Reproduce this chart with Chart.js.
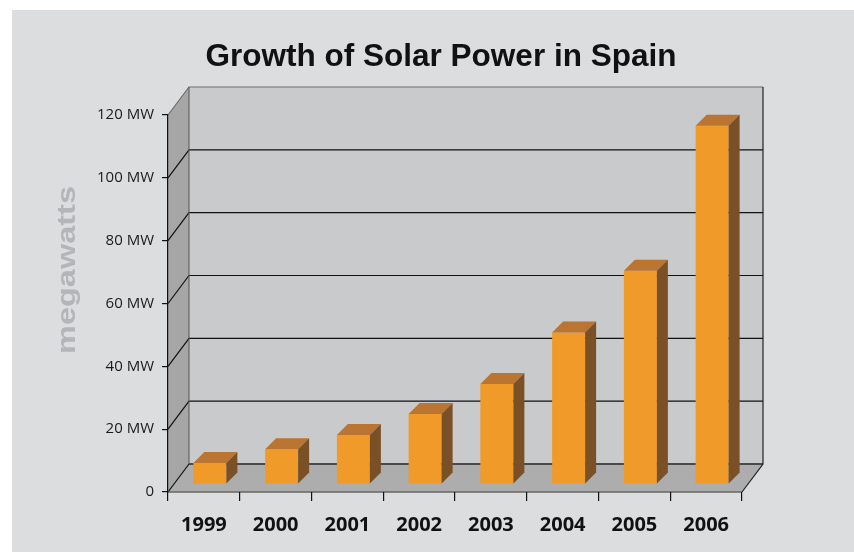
<!DOCTYPE html>
<html lang="en">
<head>
  <meta charset="UTF-8" />
  <title>Growth of Solar Power in Spain</title>
  <script src="https://cdn.jsdelivr.net/npm/chart.js"></script>
  <style>
    html, body { margin: 0; padding: 0; background: #fff; }
    #wrap { width: 854px; height: 552px; }
  </style>
</head>
<body>
  <div id="wrap"><canvas id="chart-solar" width="854" height="552"></canvas></div>
  <script>
    // values (MW, cumulative)
    const years = ['1999', '2000', '2001', '2002', '2003', '2004', '2005', '2006'];
    const megawatts = [6.7, 11.1, 15.6, 22.3, 31.8, 48.2, 67.9, 114];
    const yTicks = [0, 20, 40, 60, 80, 100, 120];

    // 3d look
    const wallDepth = { x: 21, y: -28 };
    const barShift = { x: 6, y: -8 };
    const barDepth = 11;

    const walls3d = {
      id: 'walls3d',
      beforeDraw(chart) {
        const { ctx, chartArea: a, scales: { y } } = chart;
        const dx = wallDepth.x, dy = wallDepth.y;
        ctx.save();
        ctx.fillStyle = '#fff';
        ctx.fillRect(0, 0, chart.width, chart.height);
        ctx.fillStyle = '#dcdddf';
        ctx.fillRect(12, 10, chart.width - 12, chart.height - 10);

        const top = y.getPixelForValue(120), bot = y.getPixelForValue(0);
        // back wall
        ctx.fillStyle = '#c9cacc';
        ctx.fillRect(a.left + dx, top + dy, a.right - a.left, bot - top);
        // left wall
        ctx.fillStyle = '#a6a6a6';
        ctx.beginPath();
        ctx.moveTo(a.left, bot); ctx.lineTo(a.left + dx, bot + dy);
        ctx.lineTo(a.left + dx, top + dy); ctx.lineTo(a.left, top);
        ctx.closePath(); ctx.fill();
        // floor
        ctx.fillStyle = '#adadad';
        ctx.beginPath();
        ctx.moveTo(a.left, bot); ctx.lineTo(a.right, bot);
        ctx.lineTo(a.right + dx, bot + dy); ctx.lineTo(a.left + dx, bot + dy);
        ctx.closePath(); ctx.fill();

        // grid lines
        ctx.lineWidth = 1.2;
        yTicks.forEach(v => {
          const py = y.getPixelForValue(v);
          ctx.strokeStyle = v === 120 ? '#6e6e6e' : '#111';
          ctx.beginPath();
          ctx.moveTo(a.left, py); ctx.lineTo(a.left + dx, py + dy);
          if (v > 0) ctx.lineTo(a.right + dx, py + dy);
          ctx.stroke();
        });
        // edges
        ctx.strokeStyle = '#4a4a4a'; ctx.lineWidth = 2;
        ctx.beginPath();
        ctx.moveTo(a.left + dx, bot + dy); ctx.lineTo(a.right + dx, bot + dy);
        ctx.stroke();
        ctx.strokeStyle = '#555'; ctx.lineWidth = 1;
        ctx.beginPath();
        ctx.moveTo(a.left + dx, top + dy); ctx.lineTo(a.left + dx, bot + dy);
        ctx.stroke();
        ctx.strokeStyle = '#222'; ctx.lineWidth = 1.2;
        ctx.beginPath();
        ctx.moveTo(a.right + dx, top + dy); ctx.lineTo(a.right + dx, bot + dy);
        ctx.lineTo(a.right, bot);
        ctx.stroke();
        ctx.strokeStyle = '#666'; ctx.lineWidth = 1.5;
        ctx.beginPath();
        ctx.moveTo(a.left, bot); ctx.lineTo(a.right, bot);
        ctx.stroke();
        ctx.restore();
      },
      beforeDatasetDraw(chart) {
        chart.ctx.save();
        chart.ctx.translate(barShift.x, barShift.y);
      },
      afterDatasetDraw(chart, args) {
        const ctx = chart.ctx, d = barDepth;
        args.meta.data.forEach(bar => {
          const l = bar.x - bar.width / 2, r = bar.x + bar.width / 2;
          ctx.fillStyle = '#b97531';
          ctx.beginPath();
          ctx.moveTo(l, bar.y); ctx.lineTo(l + d, bar.y - d);
          ctx.lineTo(r + d, bar.y - d); ctx.lineTo(r, bar.y);
          ctx.closePath(); ctx.fill();
          ctx.fillStyle = '#7a5027';
          ctx.beginPath();
          ctx.moveTo(r, bar.y); ctx.lineTo(r + d, bar.y - d);
          ctx.lineTo(r + d, bar.base - d); ctx.lineTo(r, bar.base);
          ctx.closePath(); ctx.fill();
        });
        ctx.restore();
      },
      afterDraw(chart) {
        const ctx = chart.ctx;
        ctx.save();
        ctx.translate(68, 270);
        ctx.rotate(-Math.PI / 2);
        ctx.scale(1.3, 1);
        ctx.font = 'bold 25px "Liberation Sans", Arial, sans-serif';
        ctx.fillStyle = '#b3b5b8';
        ctx.textAlign = 'center';
        ctx.textBaseline = 'middle';
        ctx.fillText('megawatts', 0, 0);
        ctx.restore();
      }
    };

    new Chart(document.getElementById('chart-solar'), {
      type: 'bar',
      data: {
        labels: years,
        datasets: [{
          data: megawatts,
          backgroundColor: '#f09a2a',
          borderWidth: 0,
          categoryPercentage: 1,
          barPercentage: 0.46
        }]
      },
      options: {
        responsive: false,
        animation: false,
        layout: { padding: { left: 28, right: 0, top: 0, bottom: 0 } },
        plugins: {
          legend: { display: false },
          tooltip: { enabled: false },
          title: {
            display: true,
            text: 'Growth of Solar Power in Spain',
            color: '#111',
            font: { family: '"Liberation Sans", Arial, sans-serif', size: 31.5, weight: 'bold', lineHeight: 1.2 },
            padding: { top: 38, bottom: 39.2 }
          }
        },
        scales: {
          y: {
            min: 0, max: 120,
            afterFit: s => { s.width = 140; },
            afterBuildTicks: s => { s.ticks = yTicks.map(v => ({ value: v })); },
            border: { display: true, color: '#111', width: 1.2 },
            grid: { drawOnChartArea: false, drawTicks: true, tickLength: 6, color: '#111', lineWidth: 1.2 },
            ticks: {
              padding: 8,
              color: '#1a1a1a',
              font: { family: '"Open Sans", sans-serif', size: 15 },
              callback: v => v === 0 ? '0' : v + ' MW'
            }
          },
          // empty box on the right, keeps the plot narrow
          side: {
            type: 'linear',
            position: 'right',
            afterFit: s => { s.width = 112; },
            border: { display: false },
            grid: { display: false },
            ticks: { display: false }
          },
          x: {
            afterFit: s => { s.height = 60; },
            border: { display: false },
            grid: { drawOnChartArea: false, drawTicks: true, tickLength: 9, color: '#111', lineWidth: 1.2 },
            ticks: {
              padding: 12,
              color: '#111',
              font: { family: '"Open Sans", sans-serif', size: 20, weight: 'bold' }
            }
          }
        }
      },
      plugins: [walls3d]
    });
  </script>
</body>
</html>
